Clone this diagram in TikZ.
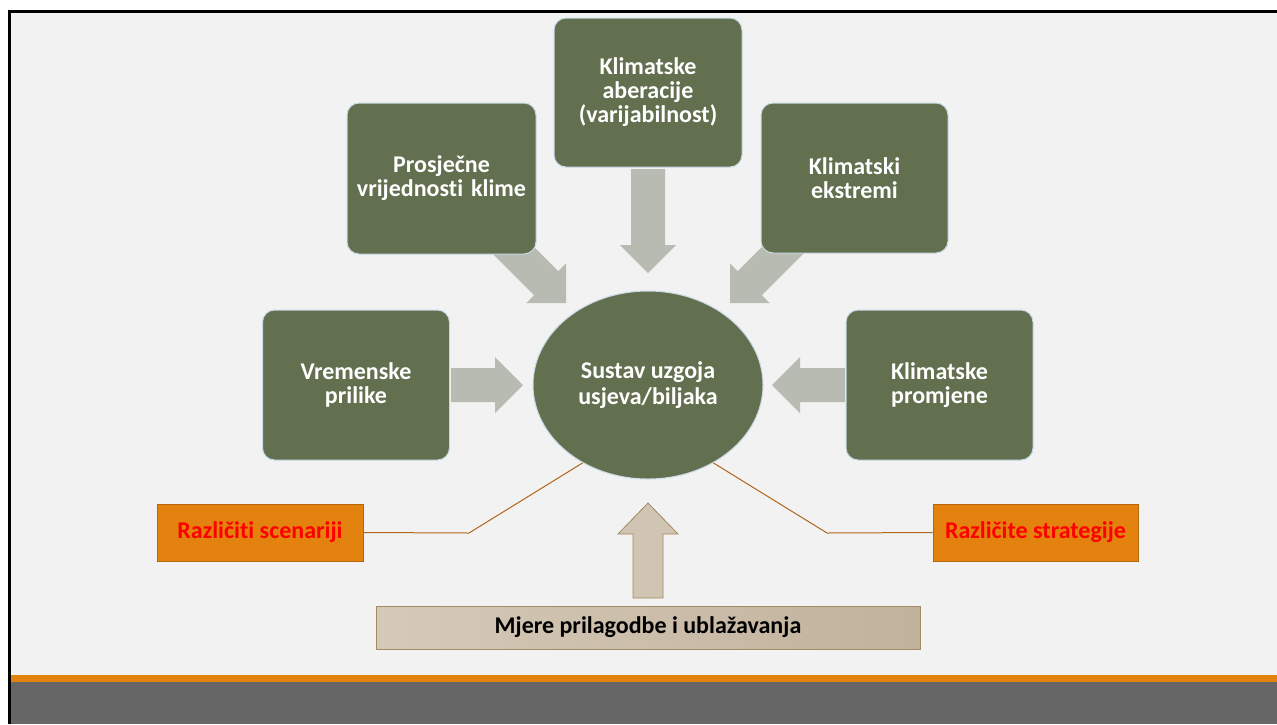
\documentclass[tikz,border=0pt]{standalone}
\usepackage{fontspec}
\setmainfont{Carlito}[Ligatures=NoCommon]
\usetikzlibrary{shapes.geometric}

\definecolor{pagegray}{HTML}{F2F2F2}
\definecolor{boxgreen}{HTML}{637050}
\definecolor{boxedge}{HTML}{C9DAE6}
\definecolor{arrowgray}{HTML}{B8BBB1}
\definecolor{tagorange}{HTML}{E4820F}
\definecolor{tagedge}{HTML}{B5650C}
\definecolor{linkbrown}{HTML}{B0651A}
\definecolor{beigeL}{HTML}{D5C9B8}
\definecolor{beigeR}{HTML}{C1B29C}
\definecolor{beigeedge}{HTML}{A38B63}
\definecolor{beigearrow}{HTML}{D0C4B2}
\definecolor{bandgray}{HTML}{666666}
\definecolor{bandorange}{HTML}{E3830F}

\tikzset{
  pics/blockarrow/.style={code={
    \fill[arrowgray] (0,0) -- (-28,-28) -- (-28,-17) -- (-#1,-17)
      -- (-#1,17) -- (-28,17) -- (-28,28) -- cycle;}},
  pics/uparrow/.style={code={
    \draw[fill=beigearrow, draw=beigeedge, line width=0.8pt]
      (0,0) -- (-31,-30) -- (-31,-15) -- (-#1,-15)
      -- (-#1,15) -- (-31,15) -- (-31,30) -- cycle;}},
}

\begin{document}
\begin{tikzpicture}[x=1pt,y=-1pt,
  txt/.style={font=\bfseries\fontsize{24}{24}\selectfont},
  factor/.style={txt, draw=boxedge, line width=1pt, fill=boxgreen,
    rounded corners=12pt, text=white, align=center, inner sep=0pt,
    minimum width=188pt, minimum height=150pt, text width=184pt},
  core/.style={font=\bfseries\fontsize{24}{26.5}\selectfont, ellipse,
    draw=boxedge, line width=1pt, fill=boxgreen,
    text=white, align=center, inner sep=0pt,
    minimum width=230pt, minimum height=188pt},
  tag/.style={txt, draw=tagedge, line width=1pt, fill=tagorange,
    text=red, inner sep=0pt, minimum height=57pt},
  link/.style={draw=linkbrown, line width=1pt},
]
\useasboundingbox (0,0) rectangle (1277,724);

% page frame and footer bands
\fill[white] (0,0) rectangle (1277,724);
\fill[pagegray] (9,11) rectangle (1277,675);
\fill[bandorange] (9,675) rectangle (1277,682);
\fill[bandgray] (9,682) rectangle (1277,724);
\draw[black, line width=3pt] (9.5,724) -- (9.5,11) -- (1277,11);

% block arrows pointing at the centre
\pic at (523,385) {blockarrow=72};
\pic[rotate=180] at (772,385) {blockarrow=73};
\pic[rotate=-90] at (648,273) {blockarrow=104};
\pic[rotate=-45] at (566,303) {blockarrow=95};
\pic[rotate=-135] at (730,303) {blockarrow=95};

% influencing factors
\node[factor, minimum width=189pt, minimum height=151pt] (avg) at (441.5,178.5)
  {Prosječne\\vrijednosti klime};
\node[factor, minimum height=149pt] (aber) at (648,92.5)
  {Klimatske\\aberacije\\(varijabilnost)};
\node[factor, minimum width=187pt] (ext) at (854.5,178)
  {Klimatski\\ekstremi};
\node[factor, minimum width=187pt] (weather) at (356,385)
  {Vremenske\\prilike};
\node[factor, minimum width=187pt] (change) at (939.5,385)
  {Klimatske\\promjene};

% cropping system
\node[core] (sys) at (648,385) {Sustav uzgoja\\usjeva/biljaka};

% scenario and strategy tags
\node[tag, minimum width=206pt] (scen) at (260,532.5) {Različiti scenariji};
\node[tag, minimum width=205pt] (strat) at (1035.5,532.5) {Različite strategije};
\draw[link] (scen.east) -- (469,533) -- (sys.230);
\draw[link] (strat.west) -- (827,533) -- (sys.-50);

% adaptation and mitigation measures
\node[txt, draw=beigeedge, line width=1pt, left color=beigeL, right color=beigeR,
  minimum width=544pt, minimum height=43pt, inner sep=0pt] (meas) at (648,627.5)
  {Mjere prilagodbe i ublažavanja};
\pic[rotate=90] at (648,503) {uparrow=95};
\end{tikzpicture}
\end{document}
